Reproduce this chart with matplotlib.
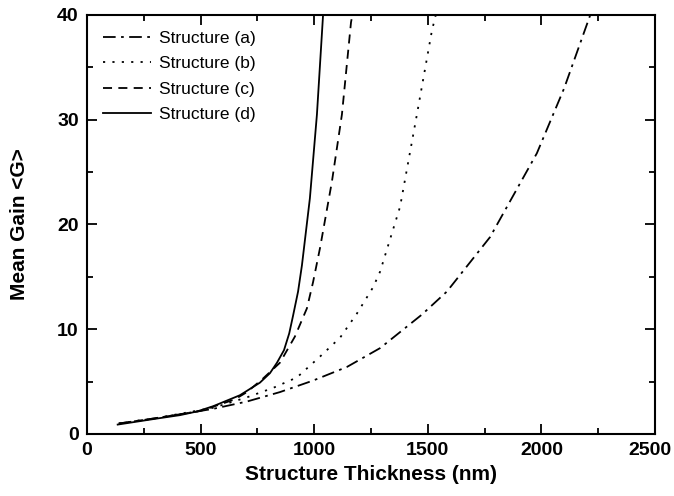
import numpy as np
import matplotlib.pyplot as plt
from matplotlib.ticker import MultipleLocator, FuncFormatter

# values
x_a = [140, 300, 555, 704, 849, 995, 1144, 1290, 1474, 1584, 1774, 1980, 2100, 2215]
g_a = [1.0, 1.5, 2.4, 3.1, 4.0, 5.1, 6.4, 8.2, 11.4, 13.6, 18.8, 26.8, 33.0, 40.0]

x_b = [140, 300, 555, 704, 819, 924, 1026, 1114, 1188, 1259, 1290, 1378, 1452, 1518, 1535]
g_b = [1.0, 1.5, 2.5, 3.5, 4.4, 5.4, 7.4, 9.2, 11.5, 14.0, 15.5, 21.7, 30.5, 38.5, 40.0]

x_c = [140, 300, 500, 650, 704, 775, 849, 915, 968, 995, 1026, 1078, 1122, 1162, 1168]
g_c = [1.0, 1.5, 2.2, 3.3, 4.0, 5.3, 6.8, 9.3, 12.0, 14.5, 17.8, 24.1, 30.5, 39.3, 40.0]

x_d = [135, 300, 409, 484, 555, 673, 761, 805, 836, 867, 890, 907, 929, 946, 981, 1012, 1039]
g_d = [0.9, 1.45, 1.8, 2.15, 2.65, 3.7, 4.9, 5.8, 6.8, 8.0, 9.6, 11.3, 13.6, 16.1, 22.5, 30.5, 40.0]

labels = ["Structure (a)", "Structure (b)", "Structure (c)", "Structure (d)"]
x_max = 2500

plt.rcParams['font.family'] = ['Liberation Sans', 'DejaVu Sans']

fig = plt.figure(figsize=(6.74, 4.96), dpi=100)
ax = fig.add_axes([87 / 674, 62 / 496, 568 / 674, 419 / 496])

lw = 1.3
ax.plot(x_a, g_a, color='black', lw=lw, dashes=(7, 3, 1.5, 3), label=labels[0])
ax.plot(x_b, g_b, color='black', lw=lw, dashes=(1.2, 4), label=labels[1])
ax.plot(x_c, g_c, color='black', lw=lw, dashes=(5, 3.5), label=labels[2])
ax.plot(x_d, g_d, color='black', lw=lw, label=labels[3])

ax.set_xlim(0, x_max)
ax.set_ylim(0, 40)
ax.xaxis.set_major_locator(MultipleLocator(500))
ax.xaxis.set_minor_locator(MultipleLocator(250))
ax.yaxis.set_major_locator(MultipleLocator(10))
ax.yaxis.set_minor_locator(MultipleLocator(5))
# the last x label is drawn separately so it stays inside the figure
ax.xaxis.set_major_formatter(FuncFormatter(lambda v, p: '' if v >= x_max else f'{v:.0f}'))
ax.tick_params(which='both', direction='in', top=True, right=True, width=1.3)
ax.tick_params(which='major', length=7, labelsize=14, pad=6)
ax.tick_params(which='minor', length=4)
for lab in ax.get_xticklabels() + ax.get_yticklabels():
    lab.set_fontweight('bold')
for s in ax.spines.values():
    s.set_linewidth(1.5)

ax.annotate(f'{x_max}', xy=(x_max, 0), xycoords=('data', 'axes fraction'),
            xytext=(-4, -6), textcoords='offset points', ha='center', va='top',
            fontsize=14, fontweight='bold')

ax.set_xlabel("Structure Thickness (nm)", fontsize=15, fontweight='bold', labelpad=4)
ax.set_ylabel("Mean Gain <G>", fontsize=15, fontweight='bold', labelpad=20)

ax.legend(loc='upper left', frameon=False, fontsize=12.5, handlelength=2.8,
          handletextpad=0.45, labelspacing=0.6, borderaxespad=0.5,
          bbox_to_anchor=(0.0, 1.0))

fig.savefig('out.png', dpi=100)
